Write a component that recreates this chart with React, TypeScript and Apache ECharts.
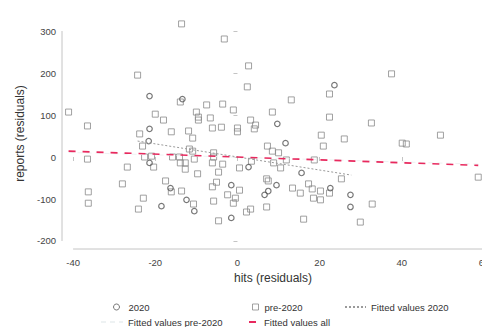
import React, { useEffect, useRef } from "react";
import * as echarts from "echarts";

// 2020 observations (hits residuals, reports residuals)
const y2020X = [-21.4, -13.4, -21.4, -21.6, 23.6, 9.7, 11.7, -21.4, -16.3, -18.5, -12.4, -10.5, -1.5, -1.5, 2.7, 15.6, 9.5, 6.6, 7.5, 22.6, 27.5, 27.5];
const y2020Y = [145, 138, 67, 38, 171, 79, 33, -14, -74, -117, -102, -129, -67, -145, -24, -38, -67, -90, -81, -74, -90, -119];

// pre-2020 observations
const preX = [
  -41.1, -36.5, -36.5, -36.3, -36.3, -24.3, -13.6, -13.9, -3.2, -20, -18, -23.8, -16.1, -11.9, -10.9, -10, -9.5, -9.5,
  -7.5, -6.6, -6.1, -3.9, -3.6, -1, 0, 0, -23.1, -22.6, -20.9, -15.8, -14.1, -11.7, -10.9, -5.8, -5.8, 2.7, 2.4, 22.4,
  13.1, 37.5, 8.5, 22.4, 3.2, 4.4, 4.1, 32.6, 20.4, 26, 20.9, 7.3, 8.5, 10, 40.1, 41.1, 49.4, 58.6, 25.3, 22.4, 20.2,
  20.2, 32.8, 29.9, 3.4, 8.8, 10.5, 7.1, 7.5, 7.1, 2.2, 3.2, 13.4, 15.3, 17.3, 18.2, 18.5, 16.1, 0.5, -10.5, -6.1,
  -3.6, -4.6, 0.5, 11.9, 18.7, -9.7, -6.1, -5.1, -2.4, -0.5, -1, -5.8, -10.7, -4.6, -26.8, -28, -20.4, -22.9, -24.1,
  -17.5, -16.1, -13.9, -12.7, -12.7, -13.6,
];
const preY = [
  107, 74, -5, -83, -110, 195, 317, 131, 281, 102, 88, 55, 60, 62, 45, 107, 95, 88,
  124, 93, 69, 71, 126, 112, 69, 60, 26, 0, 2, 0, 0, 19, 14, 10, 0, 217, 167, 150,
  136, 198, 107, 95, 88, 76, 67, 81, 52, 43, 26, 26, 14, 10, 33, 31, 52, -48, -52, -86, -81,
  -102, -112, -155, -10, -14, -26, -52, -57, -119, -131, -124, -74, -86, -64, -76, -98, -148, -79, -5, -14,
  -17, -36, -26, -7, -7, -40, -71, -60, -90, -98, -110, -105, -112, -152, -24, -64, -24, -98, -124,
  -57, -83, -14, -14, -29, -81,
];

// fitted lines (endpoints)
const fit2020X = [-24.3, 27.7];
const fit2020Y = [38, -43];
const fitPreX = [-41.1, 58.6];
const fitPreY = [11, -17];
const fitAllX = [-41.1, 58.6];
const fitAllY = [14, -20];

const xTicks = [-40, -20, 0, 20, 40, 60];
const yTicks = [-200, -100, 0, 100, 200, 300];

const zip = (a: number[], b: number[]) => a.map((v, i) => [v, b[i]]);

export default function App() {
  const ref = useRef<HTMLDivElement>(null);
  useEffect(() => {
    if (!ref.current) return;
    const chart = echarts.init(ref.current, null, { renderer: "svg" });
    const xMin = -42.7;
    const xMax = 60;
    const yMin = -219.05;
    const yMax = 331;
    const axisColor = "#c4c4c4";
    const font = "Liberation Sans, Arial, sans-serif";
    const legendText = { fontSize: 9.5, color: "#333", fontFamily: font };
    const lineLegend = { itemStyle: { opacity: 0 } };
    chart.setOption({
      animation: false,
      backgroundColor: "#fff",
      textStyle: { fontFamily: font },
      grid: { left: 62, top: 18, width: 422, height: 231, containLabel: false, outerBoundsMode: "none" },
      xAxis: {
        type: "value",
        min: xMin,
        max: xMax,
        name: "hits (residuals)",
        nameLocation: "middle",
        nameGap: 22,
        nameTextStyle: { fontSize: 12, color: "#333", fontFamily: font },
        axisLine: { show: false },
        axisTick: { show: true, length: 4, customValues: xTicks, lineStyle: { color: axisColor } },
        axisLabel: { customValues: xTicks, margin: 8, fontSize: 9.5, color: "#444", fontFamily: font },
        splitLine: { show: false },
      },
      yAxis: {
        type: "value",
        min: yMin,
        max: yMax,
        name: "reports (residuals)",
        nameLocation: "middle",
        nameGap: 32,
        nameTextStyle: { fontSize: 12, color: "#333", fontFamily: font },
        axisLine: { show: false },
        axisTick: { show: true, length: 4, customValues: yTicks, lineStyle: { color: axisColor } },
        axisLabel: { customValues: yTicks, margin: 6, fontSize: 9.5, color: "#444", fontFamily: font },
        splitLine: { show: false },
      },
      legend: [
        {
          data: [{ name: "2020", icon: "circle" }],
          left: 108, top: 297, itemWidth: 6, itemHeight: 6,
          itemStyle: { borderWidth: 1 },
          textStyle: { ...legendText, padding: [0, 0, 0, 4] },
        },
        {
          data: [{ name: "pre-2020", icon: "rect" }],
          left: 247, top: 297, itemWidth: 6, itemHeight: 6,
          itemStyle: { borderWidth: 1 },
          textStyle: { ...legendText, padding: [0, 0, 0, 1] },
        },
        { data: ["Fitted values 2020"], left: 339, top: 297, itemWidth: 21, itemHeight: 6, textStyle: legendText, ...lineLegend },
        { data: ["Fitted values pre-2020"], left: 95, top: 312, itemWidth: 22, itemHeight: 6, textStyle: legendText, ...lineLegend },
        { data: ["Fitted values all"], left: 243, top: 312, itemWidth: 10, itemHeight: 6, textStyle: legendText, ...lineLegend },
      ],
      series: [
        {
          name: "axisX",
          type: "line",
          data: [[-40, yMin], [60, yMin]],
          symbol: "none",
          silent: true,
          clip: false,
          lineStyle: { color: axisColor, width: 1 },
        },
        {
          name: "axisY",
          type: "line",
          data: [[xMin, -200], [xMin, 300]],
          symbol: "none",
          silent: true,
          clip: false,
          lineStyle: { color: axisColor, width: 1 },
        },
        {
          name: "Fitted values pre-2020",
          type: "line",
          data: zip(fitPreX, fitPreY),
          symbol: "none",
          lineStyle: { color: "#eef2f3", width: 1, type: [5, 4] },
          itemStyle: { color: "#eef2f3" },
        },
        {
          name: "pre-2020",
          type: "scatter",
          data: zip(preX, preY),
          symbol: "rect",
          symbolSize: 6,
          itemStyle: { color: "rgba(255,255,255,0)", borderColor: "#8a8a8a", borderWidth: 1 },
        },
        {
          name: "2020",
          type: "scatter",
          data: zip(y2020X, y2020Y),
          symbol: "circle",
          symbolSize: 5.5,
          itemStyle: { color: "rgba(255,255,255,0)", borderColor: "#555", borderWidth: 1.2 },
        },
        {
          name: "Fitted values 2020",
          type: "line",
          data: zip(fit2020X, fit2020Y),
          symbol: "none",
          lineStyle: { color: "#9a9a9a", width: 1, type: [2, 2] },
          itemStyle: { color: "#9a9a9a" },
        },
        {
          name: "Fitted values all",
          type: "line",
          data: zip(fitAllX, fitAllY),
          symbol: "none",
          lineStyle: { color: "#e8295e", width: 1.6, type: [7, 7] },
          itemStyle: { color: "#e8295e" },
        },
      ],
    });
    return () => chart.dispose();
  }, []);
  return (
    <div
      ref={ref}
      style={{ position: "fixed", left: 0, top: 0, width: 482, height: 327, background: "#fff" }}
    />
  );
}
